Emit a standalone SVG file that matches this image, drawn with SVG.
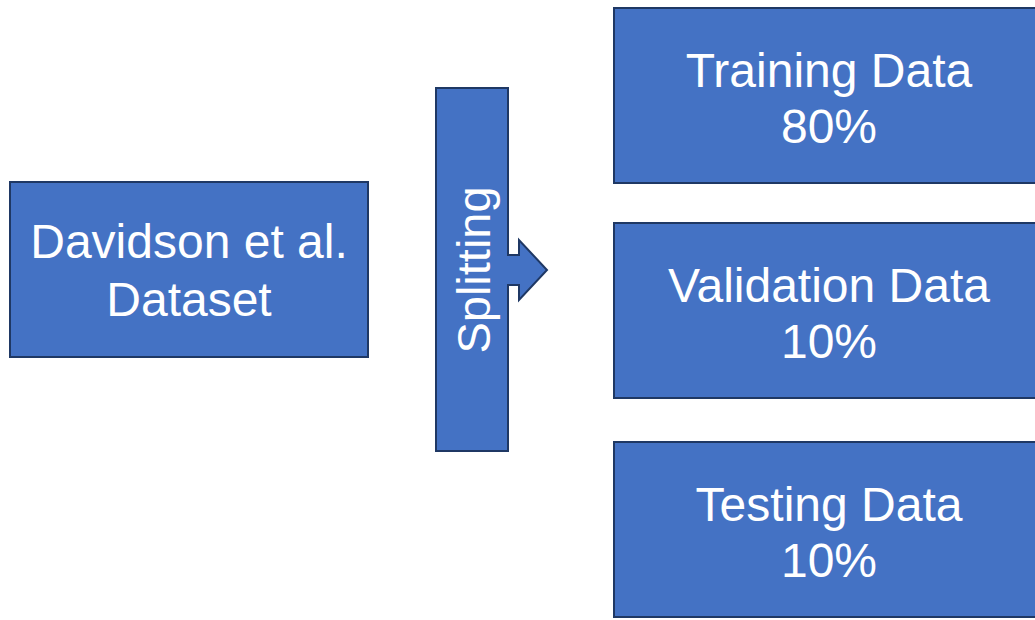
<svg xmlns="http://www.w3.org/2000/svg" width="1035" height="620" viewBox="0 0 1035 620">
<style>
.box{fill:#4472C4;stroke:#1F3864;stroke-width:2}
.t{font-family:"Liberation Sans",Arial,sans-serif;font-size:48px;fill:#fff;text-anchor:middle}
</style>
<rect width="1035" height="620" fill="#fff"/>
<g id="dataset">
<rect class="box" x="10" y="182" width="358" height="175"/>
<text class="t" x="189" y="258">Davidson et al.</text>
<text class="t" x="189" y="316">Dataset</text>
</g>
<g id="connectors">
<path class="box" d="M436 88 H508 V255 H519 V240 L547 270 L519 300 V285 H508 V451 H436 Z"/>
</g>
<g id="splitting">
<text class="t" style="font-size:47px" transform="translate(490 270) rotate(-90)">Splitting</text>
</g>
<g id="training">
<rect class="box" x="614" y="8" width="432" height="175"/>
<text class="t" x="829" y="87">Training Data</text>
<text class="t" x="829" y="143">80%</text>
</g>
<g id="validation">
<rect class="box" x="614" y="223" width="432" height="175"/>
<text class="t" x="829" y="302">Validation Data</text>
<text class="t" x="829" y="358">10%</text>
</g>
<g id="testing">
<rect class="box" x="614" y="442" width="432" height="175"/>
<text class="t" x="829" y="521">Testing Data</text>
<text class="t" x="829" y="577">10%</text>
</g>
</svg>
